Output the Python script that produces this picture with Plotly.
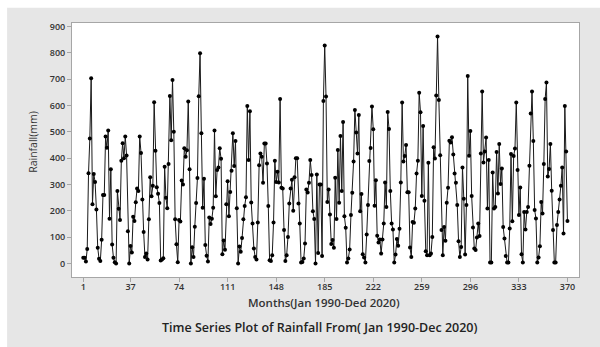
import plotly.graph_objects as go

# Monthly rainfall (mm), in consecutive segments
rain_seg1 = [22, 22, 8, 55, 343, 475, 703, 225, 340, 310, 205, 60,
             18, 10, 90, 260, 260, 482, 440, 505, 170, 358, 72, 22,
             5, 0, 275, 208, 165, 390, 457, 400, 482, 410, 123, 0,
             67, 42, 178, 162, 233, 285, 275, 482, 420, 243, 120, 25,
             38, 15, 168, 328, 255, 295, 612, 428, 290, 265, 230, 12,
             15, 20, 367, 250, 210, 378, 636, 468, 697, 500, 168, 73,
             5, 165, 160, 315, 300, 438, 405, 430, 615]
rain_seg2 = [358, 0, 62, 25, 140, 230, 325, 635, 798,
             495, 212, 322, 70, 30, 8, 175, 150, 170, 212, 505, 255, 355, 365, 438, 398, 35]
rain_seg3 = [88, 52, 225, 312, 180, 272, 352, 495, 370, 465, 210, 0, 65, 45, 97, 168, 218, 252,
             598, 393, 578, 232, 152, 57, 25, 15, 156, 373, 418, 405, 307, 456, 456, 380, 218, 13,
             10, 32, 156, 390, 310, 348, 308, 625]
rain_seg4 = [288, 285, 127, 10, 32, 101, 228, 285, 318, 200, 328, 400, 400, 228, 152,
             4, 6, 19, 76, 281, 270, 307, 393,
             336, 199, 169, 0, 338, 40, 300, 300, 29, 617,
             828, 634, 234, 281, 186, 74, 89, 60, 326, 169,
             431, 231, 484, 275, 537, 180, 136, 4, 19, 53,
             184, 269, 387, 583, 497, 418, 564, 199, 264, 35]
rain_seg5 = [23, 4, 110, 222, 389, 439, 596, 510, 219, 316,
             106, 80, 91, 38, 91, 152, 308, 215, 575, 511,
             275, 152, 129, 4, 34, 93, 68, 132, 308, 611,
             387, 408, 450, 271, 271, 61, 25, 158, 155, 209,
             342, 390, 648, 574, 256, 522, 238, 47, 32, 383,
             32, 38, 101, 441, 399, 638, 862, 621, 411, 127]
rain_seg6 = [32, 139, 87, 231, 288, 466, 459, 479, 414, 342,
             307, 222, 85, 25, 63, 365, 246, 34, 222, 712,
             409, 503, 256, 137, 57, 51, 99, 152, 105, 418,
             653, 384, 425, 478, 209, 393, 4, 4, 346, 209,
             215, 423, 266, 454, 302, 361, 139, 95, 29, 4]
rain_seg7 = [4, 133, 416, 161, 408, 437, 611, 355, 184, 289,
             35, 4, 196, 129, 196, 215, 371, 570, 653, 465,
             203, 171, 4, 23, 66, 234, 190, 378, 625, 687,
             330, 359, 454, 276, 127, 4, 4, 146, 196, 243,
             295, 365, 114, 598, 425, 162]

rainfall = rain_seg1 + rain_seg2 + rain_seg3 + rain_seg4 + rain_seg5 + rain_seg6 + rain_seg7
months = list(range(1, len(rainfall) + 1))

x_ticks = [1, 37, 74, 111, 148, 185, 222, 259, 296, 333, 370]
y_ticks = [0, 100, 200, 300, 400, 500, 600, 700, 800, 900]

FONT = "Open Sans"
fig = go.Figure()
fig.add_trace(go.Scatter(
    x=months, y=rainfall, mode="lines+markers",
    line=dict(color="#1a1a1a", width=1),
    marker=dict(color="#000000", size=4),
    hoverinfo="x+y", showlegend=False,
))

axis_common = dict(
    showgrid=False, zeroline=False, showline=True, mirror=True,
    linecolor="#a6a6a6", linewidth=1, ticks="outside", ticklen=4,
    tickcolor="#a6a6a6", tickfont=dict(family=FONT, size=9, color="#333333", weight=600),
)

fig.update_layout(
    width=600, height=347,
    margin=dict(l=72, r=21, t=23, b=70),
    paper_bgcolor="#e6e6e6", plot_bgcolor="#ffffff",
    xaxis=dict(range=[-7.6, 378.8], tickvals=x_ticks, ticktext=[str(t) for t in x_ticks],
               ticklabelstandoff=-3, **axis_common),
    yaxis=dict(range=[-51, 913], tickvals=y_ticks, ticktext=[str(t) for t in y_ticks], **axis_common),
    shapes=[
        dict(type="rect", xref="paper", yref="paper", x0=-0.2, x1=1.1, y0=1.06, y1=1.2,
             fillcolor="#ffffff", line=dict(width=0), layer="below"),
        dict(type="rect", xref="paper", yref="paper", x0=-0.2, x1=-0.128, y0=-0.4, y1=1.2,
             fillcolor="#ffffff", line=dict(width=0), layer="below"),
    ],
    annotations=[
        dict(text="Months(Jan 1990-Ded 2020)", xref="paper", yref="paper", x=0.498, y=-0.1,
             xanchor="center", yanchor="middle", showarrow=False,
             font=dict(family=FONT, size=11.5, color="#333333", weight=600)),
        dict(text="Time Series Plot of Rainfall From( Jan 1990-Dec 2020)", xref="paper", yref="paper",
             x=0.489, y=-0.198, xanchor="center", yanchor="middle", showarrow=False,
             font=dict(family=FONT, size=12.5, color="#222222", weight=600)),
        dict(text="Rainfall(mm)", xref="paper", yref="paper", x=-0.077, y=0.532, textangle=-90,
             xanchor="center", yanchor="middle", showarrow=False,
             font=dict(family=FONT, size=10.5, color="#333333")),
    ],
)

fig.write_html("out.html")
